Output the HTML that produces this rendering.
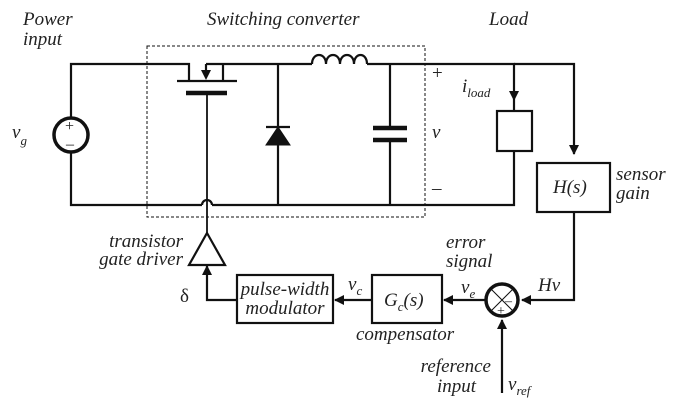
<!DOCTYPE html>
<html><head><style>
html,body{margin:0;padding:0;background:#fff;}
svg{display:block}
text{font-family:"Liberation Serif",serif;font-style:italic;font-size:19px;fill:#222}
</style></head><body>
<svg width="677" height="412" viewBox="0 0 677 412" xmlns="http://www.w3.org/2000/svg">
<defs><marker id="a" markerWidth="10" markerHeight="10" refX="9" refY="5" orient="auto" markerUnits="userSpaceOnUse"><path d="M0,0 L10,5 L0,10 z" fill="#111"/></marker></defs>
<g stroke="#111" stroke-width="2.2" fill="none">
<rect x="147" y="46" width="278" height="171" stroke-width="1" stroke-dasharray="3,2"/>
<path d="M189,81 V64 H71 V117 M71,153 V205 H202 M212,205 H514 V151"/>
<path d="M202,205 a5,5 0 0 1 10,0"/>
<circle cx="71" cy="135" r="17" stroke-width="3.5"/>
<path d="M177,81 H237 M223,81 V64 H312 M367,64 H514 V84 M206,64 H223 M206,64 V70"/>
<path d="M186,93 H227" stroke-width="4.5"/>
<path d="M207,93 V233" stroke-width="1.8"/>
<path d="M312,64 c0,-12 14,-12 14,0 c0,-12 14,-12 14,0 c0,-12 14,-12 14,0 c0,-12 13,-12 13,0"/>
<path d="M278,64 V205 M266,127 H290"/>
<path d="M390,64 V128 M390,140 V205"/>
<path d="M373,128 H407 M373,140 H407" stroke-width="4.5"/>
<path d="M514,64 H574 V154" marker-end="url(#a)"/>
<path d="M514,84 V100" marker-end="url(#a)"/>
<path d="M514,100 V111"/>
<rect x="497" y="111" width="35" height="40"/>
<rect x="537" y="163" width="73" height="49"/>
<path d="M574,212 V300 H522" marker-end="url(#a)"/>
<circle cx="502" cy="300" r="16" stroke-width="3.5"/>
<path d="M491,289 L513,311 M513,289 L491,311" stroke-width="1"/>
<path d="M502,393 V320" marker-end="url(#a)"/>
<path d="M485,300 H444" marker-end="url(#a)"/>
<rect x="372" y="275" width="70" height="48"/>
<path d="M372,300 H335" marker-end="url(#a)"/>
<rect x="237" y="275" width="96" height="48"/>
<path d="M237,300 H207 V266" marker-end="url(#a)"/>
<path d="M207,233 L225,265 L189,265 Z"/>
</g>
<path d="M206,80 L201,70 L211,70 Z" fill="#111"/>
<path d="M278,127 L266,145 L290,145 Z" fill="#111" stroke="#111" stroke-width="1"/>
<text x="65" y="131" style="font-style:normal;font-size:16px">+</text>
<text x="66" y="149" style="font-style:normal;font-size:16px">–</text>
<text x="497" y="315" style="font-style:normal;font-size:14px">+</text>
<text x="505" y="305" style="font-style:normal;font-size:14px">–</text>
<text x="23" y="25">Power</text>
<text x="23" y="45">input</text>
<text x="207" y="25">Switching converter</text>
<text x="489" y="25">Load</text>
<text x="12" y="138">v<tspan font-size="13" dy="7">g</tspan></text>
<text x="432" y="79" style="font-style:normal">+</text>
<text x="432" y="138">v</text>
<text x="432" y="194" style="font-style:normal">–</text>
<text x="462" y="92">i<tspan font-size="13" dy="5">load</tspan></text>
<text x="616" y="180">sensor</text>
<text x="616" y="199">gain</text>
<text x="553" y="193">H(s)</text>
<text x="183" y="247" text-anchor="end">transistor</text>
<text x="183" y="265" text-anchor="end">gate driver</text>
<text x="180" y="302" style="font-style:normal">δ</text>
<text x="285" y="295" text-anchor="middle">pulse-width</text>
<text x="285" y="314" text-anchor="middle">modulator</text>
<text x="348" y="290">v<tspan font-size="13" dy="5">c</tspan></text>
<text x="384" y="306">G<tspan font-size="13" dy="5">c</tspan><tspan dy="-5">(s)</tspan></text>
<text x="356" y="340">compensator</text>
<text x="446" y="248">error</text>
<text x="446" y="267">signal</text>
<text x="461" y="293">v<tspan font-size="13" dy="5">e</tspan></text>
<text x="538" y="291">Hv</text>
<text x="491" y="372" text-anchor="end">reference</text>
<text x="476" y="392" text-anchor="end">input</text>
<text x="508" y="390">v<tspan font-size="13" dy="5">ref</tspan></text>
</svg>
</body></html>
